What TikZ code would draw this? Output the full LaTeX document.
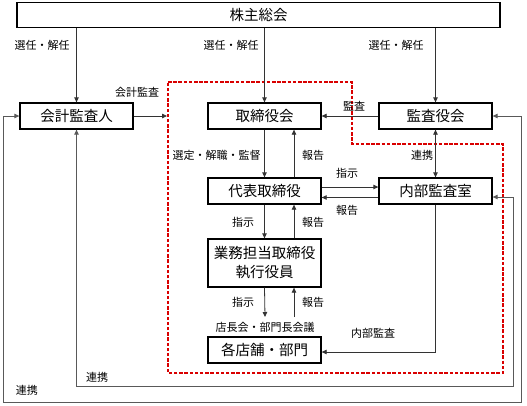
\documentclass[tikz,border=0pt]{standalone}
\usepackage{fontspec}
\setmainfont{Noto Sans CJK JP}
\usetikzlibrary{arrows.meta}
\begin{document}
\begin{tikzpicture}[x=1pt,y=-1pt,
 box/.style={draw=black, line width=1.3pt, minimum height=26pt, minimum width=113pt,
   font=\fontsize{14.5}{19}\selectfont, inner sep=0pt, fill=white, align=center},
 conn/.style={draw=black!80, line width=0.8pt, -{Triangle[length=5pt,width=4.5pt]}},
 loop/.style={draw=black!65, line width=0.9pt, {Triangle[length=5pt,width=4.5pt]}-{Triangle[length=5pt,width=4.5pt]}},
 both/.style={draw=black!80, line width=0.8pt, {Triangle[length=5pt,width=4.5pt]}-{Triangle[length=5pt,width=4.5pt]}},
 lbl/.style={font=\fontsize{11}{13}\selectfont, inner sep=0pt},
 reddash/.style={draw=red!85!black, line width=1.2pt, dash pattern=on 3.5pt off 1.7pt},
]
\useasboundingbox (0,0) rectangle (527,405);

% red dashed region
\draw[reddash] (168,82) -- (352,82) -- (352,144) -- (503,144) -- (503,373) -- (168,373) -- cycle;

% boxes
\node[box, minimum width=483pt, minimum height=25pt] (kab) at (258.5,15) {株主総会};
\node[box] (kai) at (76.5,116) {会計監査人};
\node[box] (tor) at (264.5,116) {取締役会};
\node[box] (kan) at (435.5,116) {監査役会};
\node[box] (dai) at (264.5,191) {代表取締役};
\node[box] (nai) at (435.5,191) {内部監査室};
\node[box, minimum height=48pt] (gyo) at (264.5,263) {業務担当取締役\\執行役員};
\node[box] (kak) at (264.5,350) {各店舗・部門};

% helper coordinates
\coordinate (redL) at (167,116);
\coordinate (k1) at (265,317);
\coordinate (k2) at (294,317);
\coordinate (o1) at (521,402);
\coordinate (o2) at (3,402);
\coordinate (i1) at (513,386);
\coordinate (i2) at (76.5,386);

% from shareholders
\draw[conn] (kab.south -| kai.north) -- (kai.north);
\draw[conn] (kab.south -| tor.north) -- (tor.north);
\draw[conn] (kab.south -| kan.north) -- (kan.north);

% accounting audit
\draw[conn] (kai.east) -- (redL);
% audit
\draw[conn] (kan.west) -- (tor.east);
% board <-> representative
\draw[conn] (tor.south) -- (dai.north);
\draw[conn] ([xshift=29.5pt]dai.north) -- ([xshift=29.5pt]tor.south);
% audit board <-> internal audit
\draw[both] (kan.south) -- (nai.north);
% representative <-> internal audit
\draw[conn] ([yshift=4pt]dai.east) -- ([yshift=4pt]nai.west);
\draw[conn] ([yshift=-6.5pt]nai.west) -- ([yshift=-6.5pt]dai.east);
% representative <-> executive
\draw[conn] (dai.south) -- (gyo.north);
\draw[conn] ([xshift=29.5pt]gyo.north) -- ([xshift=29.5pt]dai.south);
% executive <-> meeting
\draw[conn] (gyo.south) -- (k1);
\draw[conn] (k2) -- ([xshift=29.5pt]gyo.south);
% internal audit -> stores
\draw[conn] (nai.south) |- ([yshift=-2pt]kak.east);
% loops
\draw[loop] (kai.west) -| (o2) -- (o1) |- (kan.east);
\draw[loop] (kai.south) -- (i2) -- (i1) |- ([yshift=-6pt]nai.east);

% labels
\node[lbl] at (42,45) {選任・解任};
\node[lbl] at (231,45) {選任・解任};
\node[lbl] at (396,45) {選任・解任};
\node[lbl] at (137,92) {会計監査};
\node[lbl] at (354,106) {監査};
\node[lbl] at (216.5,155) {選定・解職・監督};
\node[lbl] at (313,155) {報告};
\node[lbl] at (422,155) {連携};
\node[lbl] at (347,173) {指示};
\node[lbl] at (347,210) {報告};
\node[lbl] at (243,222) {指示};
\node[lbl] at (313,222) {報告};
\node[lbl] at (243,302) {指示};
\node[lbl] at (313,302) {報告};
\node[lbl] at (265,327) {店長会・部門長会議};
\node[lbl] at (373,333) {内部監査};
\node[lbl] at (97,377) {連携};
\node[lbl] at (27,390) {連携};
\end{tikzpicture}
\end{document}
